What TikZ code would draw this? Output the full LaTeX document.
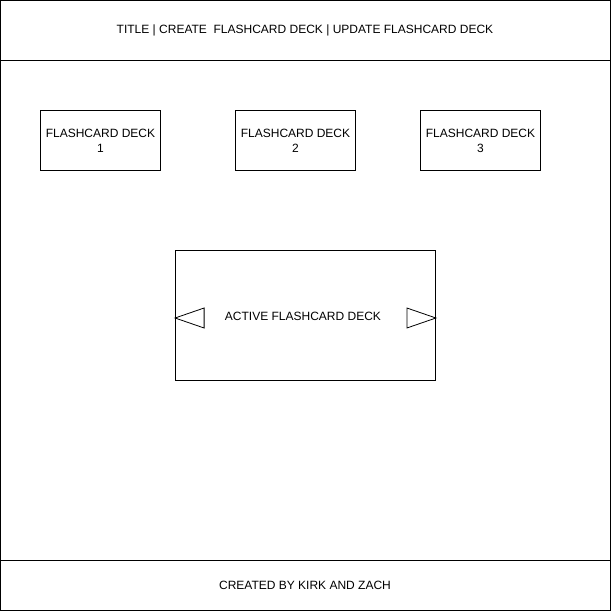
\documentclass[tikz,border=0pt]{standalone}
\usepackage{fontspec}
\setmainfont{Liberation Sans}
\usepackage{tikz}

\tikzset{
  deckbox/.style={draw,minimum width=120pt,minimum height=60pt,inner sep=0pt,align=center,font=\fontsize{12}{15}\selectfont},
  plaintext/.style={inner sep=0pt,font=\fontsize{12}{15}\selectfont},
  arrowtri/.style={draw,line width=0.8pt}
}

\begin{document}
\begin{tikzpicture}[x=1pt,y=-1pt,line width=0.8pt]
  \useasboundingbox (0,0) rectangle (611,611);
  \draw (0.5,0.5) rectangle (610.5,610.5);
  \draw (0.5,60.5) -- (610.5,60.5);
  \draw (0.5,560.5) -- (610.5,560.5);
  \node[plaintext] (title) at (305,30) {TITLE | CREATE~ FLASHCARD DECK | UPDATE FLASHCARD DECK};
  \node[plaintext] (footer) at (305,585) {CREATED BY KIRK AND ZACH};
  % decks
  \node[deckbox] (deck1) at (100.5,140.5) {FLASHCARD DECK\\1};
  \node[deckbox] (deck2) at (295.5,140.5) {FLASHCARD DECK\\2};
  \node[deckbox] (deck3) at (480.5,140.5) {FLASHCARD DECK\\3};
  % active deck
  \node[draw,minimum width=260pt,minimum height=130pt,inner sep=0pt] (active) at (305.5,315.5) {};
  \node[plaintext] (activelabel) at (303,316) {ACTIVE FLASHCARD DECK};
  \draw[arrowtri] (active.west) ++(0,2.5) -- ++(29,-10) -- ++(0,20) -- cycle;
  \draw[arrowtri] (active.east) ++(0,2.5) -- ++(-29,-10) -- ++(0,20) -- cycle;
\end{tikzpicture}
\end{document}
